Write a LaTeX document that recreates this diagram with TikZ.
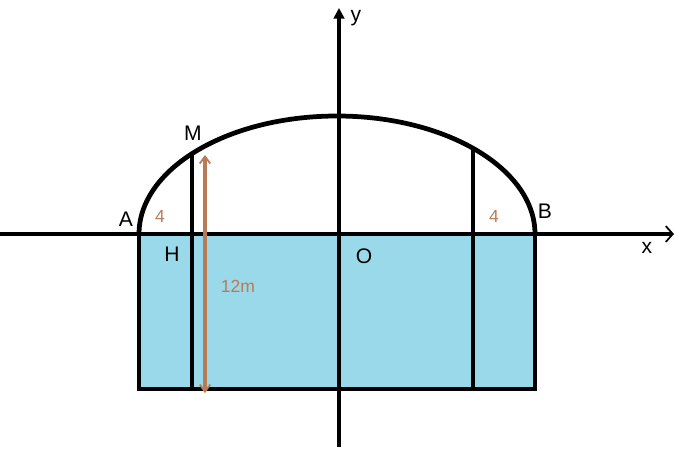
\documentclass[tikz,border=0pt]{standalone}
\usepackage{fontspec}
\setmainfont{Liberation Sans}
\usetikzlibrary{arrows.meta}
\definecolor{pool}{RGB}{153,217,234}
\definecolor{rust}{RGB}{185,122,87}

\begin{document}
\begin{tikzpicture}[x=0.02cm,y=0.02cm,
  thickline/.style={line width=2.7pt},
  lbl/.style={font=\fontsize{12}{14}\selectfont},
  rustlbl/.style={text=rust,font=\fontsize{10}{12}\selectfont}]
  \useasboundingbox (0,0) rectangle (682,451);
  \coordinate (O) at (339,217);
  \coordinate (A) at (139,217);
  \coordinate (B) at (535,217);
  \coordinate (Ad) at (139,62);
  \coordinate (Bd) at (535,62);
  \coordinate (M) at (192,297.4);
  \coordinate (H) at (192,62);
  \coordinate (N) at (473,302.8);
  \coordinate (Nd) at (473,62);
  \coordinate (xl) at (0,217);
  \coordinate (xr) at (674,217);
  \coordinate (yb) at (339,4);
  \coordinate (yt) at (339,443);
  \coordinate (ht) at (205,296);
  \coordinate (hb) at (205,58);
  % water part
  \fill[pool] (A) rectangle (Bd);
  \draw[thickline] (A) -- (Ad) -- (Bd) -- (B);
  \draw[thickline] (A) arc[start angle=180,end angle=0,x radius=198,y radius=118];
  \draw[thickline] (M) -- (H);
  \draw[thickline] (N) -- (Nd);
  \draw[thickline,-{Straight Barb[length=4pt,width=9pt,line width=1pt]}] (xl) -- (xr);
  \draw[thickline,-{Triangle[length=6pt,width=6pt]}] (yb) -- (yt);
  \draw[rust,line width=2.6pt,{Straight Barb[length=4pt,width=6pt,line width=1pt]}-{Straight Barb[length=4pt,width=6pt,line width=1pt]}] (ht) -- (hb);
  \node[lbl] (la) at (126,232) {A};
  \node[lbl] (lm) at (193,318) {M};
  \node[lbl] (lh) at (172,197) {H};
  \node[lbl] (lo) at (364,195) {O};
  \node[lbl] (lb) at (545,240) {B};
  \node[lbl] (ly) at (356,433) {y};
  \node[lbl] (lx) at (647,203) {x};
  \node[rustlbl] (fl) at (160,235) {4};
  \node[rustlbl] (fr) at (494,235) {4};
  \node[rustlbl] (ln) at (238,165) {12m};
\end{tikzpicture}
\end{document}
